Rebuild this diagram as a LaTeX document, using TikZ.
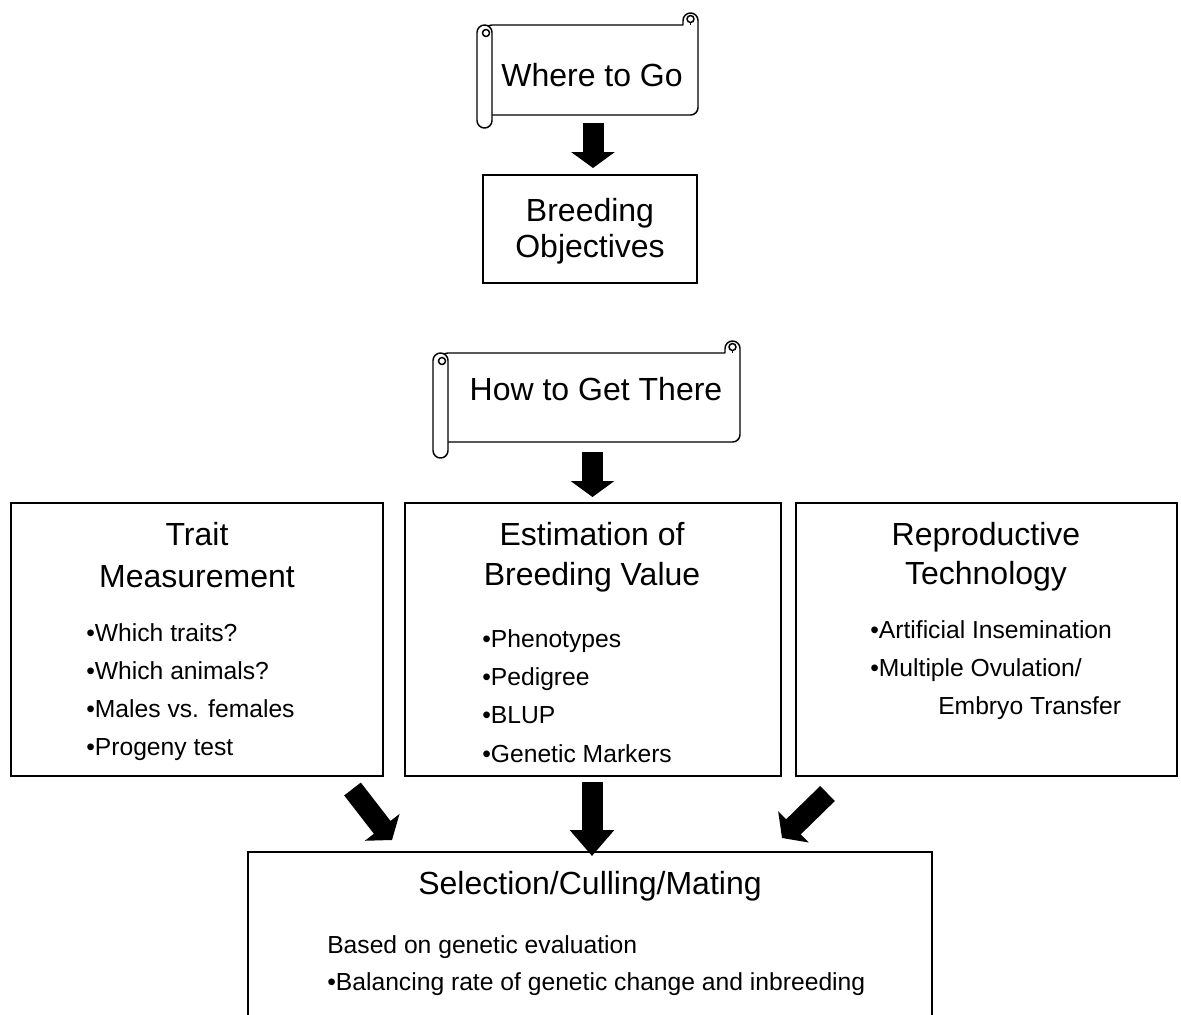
\documentclass[tikz,border=0pt]{standalone}
\usepackage{fontspec}
\setmainfont{Liberation Sans}
\usetikzlibrary{arrows.meta}
\begin{document}
\begin{tikzpicture}[x=0.75pt,y=-0.75pt,
  box/.style={draw=black, line width=1.1pt, fill=white, inner sep=0pt, outer sep=0pt, anchor=north west},
  scl/.style={draw=black, line width=1.1pt, fill=white},
  ttl/.style={font=\fontsize{24}{28}\selectfont, inner sep=0pt, anchor=base},
  bul/.style={font=\fontsize{18.5}{22}\selectfont, inner sep=0pt, anchor=base west},
  barrow/.style={draw=black, line width=15.75pt, -{Triangle[length=12pt,width=32.25pt]}},
  barrowlong/.style={draw=black, line width=15.75pt, -{Triangle[length=19.5pt,width=32.25pt]}},
]
\useasboundingbox (0,0) rectangle (1181,1014);
\clip (0,0) rectangle (1181,1014);

% ---------- scroll 1: Where to Go ----------
\draw[scl, rounded corners=5.6pt] (683,25) -- (683,13) -- (698,13) -- (698,115) -- (484.5,115) -- (484.5,25) -- (683,25);
\draw[line width=1.1pt] (690.5,22.5) -- (690.5,25);
\draw[line width=1.1pt] (690.5,19) circle[radius=3.5];
\draw[scl, rounded corners=5.6pt] (477,25) rectangle (492,128);
\draw[line width=1.1pt] (486,33) circle[radius=3.5];
\node[ttl] (t1) at (592,86) {Where to Go};

% ---------- Breeding Objectives ----------
\node[box, minimum width=160.5pt, minimum height=81pt] (obj) at (483,175) {};
\node[ttl] (t2) at (590,221) {Breeding};
\node[ttl] (t2b) at (590,257) {Objectives};

% ---------- scroll 2: How to Get There ----------
\draw[scl, rounded corners=5.6pt] (725,353) -- (725,341) -- (740,341) -- (740,442) -- (440.5,442) -- (440.5,353) -- (725,353);
\draw[line width=1.1pt] (732.5,350.5) -- (732.5,353);
\draw[line width=1.1pt] (732.5,347) circle[radius=3.5];
\draw[scl, rounded corners=5.6pt] (433,353) rectangle (448,458);
\draw[line width=1.1pt] (442,361) circle[radius=3.5];
\node[ttl] (t3) at (596,400) {How to Get There};

% ---------- three boxes ----------
\node[box, minimum width=279pt, minimum height=204.75pt] (trait) at (11,503) {};
\node[box, minimum width=282pt, minimum height=204.75pt] (est) at (405,503) {};
\node[box, minimum width=285.75pt, minimum height=204.75pt] (repro) at (796,503) {};

\node[ttl] (tr1) at (197,545) {Trait};
\node[ttl] (tr2) at (197,587) {Measurement};
\node[bul] (tb1) at (86,641) {•Which traits?};
\node[bul] (tb2) at (86,679) {•Which animals?};
\node[bul] (tb3) at (86,717) {•Males vs. females};
\node[bul] (tb4) at (86,755) {•Progeny test};

\node[ttl] (es1) at (592,545) {Estimation of};
\node[ttl] (es2) at (592,585) {Breeding Value};
\node[bul] (eb1) at (482,647) {•Phenotypes};
\node[bul] (eb2) at (482,685) {•Pedigree};
\node[bul] (eb3) at (482,723) {•BLUP};
\node[bul] (eb4) at (482,762) {•Genetic Markers};

\node[ttl] (rp1) at (986,545) {Reproductive};
\node[ttl] (rp2) at (986,584) {Technology};
\node[bul] (rb1) at (870,638) {•Artificial Insemination};
\node[bul] (rb2) at (870,676) {•Multiple Ovulation/};
\node[bul] (rb3) at (938,714) {Embryo Transfer};

% ---------- bottom box ----------
\node[box, minimum width=513pt, minimum height=133.5pt] (sel) at (248,852) {};
\node[ttl] (sl1) at (590,894) {Selection/Culling/Mating};
\node[bul] (sb1) at (327,953) {Based on genetic evaluation};
\node[bul] (sb2) at (327,990) {•Balancing rate of genetic change and inbreeding};

% ---------- block arrows ----------
\coordinate (a1s) at (593,123);
\coordinate (a1e) at (593,168);
\coordinate (a2s) at (592.5,452);
\coordinate (a2e) at (592.5,497);
\coordinate (a3s) at (592,782);
\coordinate (a3e) at (592,856);
\coordinate (a4s) at (352.5,789);
\coordinate (a4e) at (392,840);
\coordinate (a5s) at (827.5,793.5);
\coordinate (a5e) at (782,838);
\draw[barrow] (a1s) -- (a1e);
\draw[barrow] (a2s) -- (a2e);
\draw[barrowlong] (a3s) -- (a3e);
\draw[barrow] (a4s) -- (a4e);
\draw[barrow] (a5s) -- (a5e);
\end{tikzpicture}
\end{document}
